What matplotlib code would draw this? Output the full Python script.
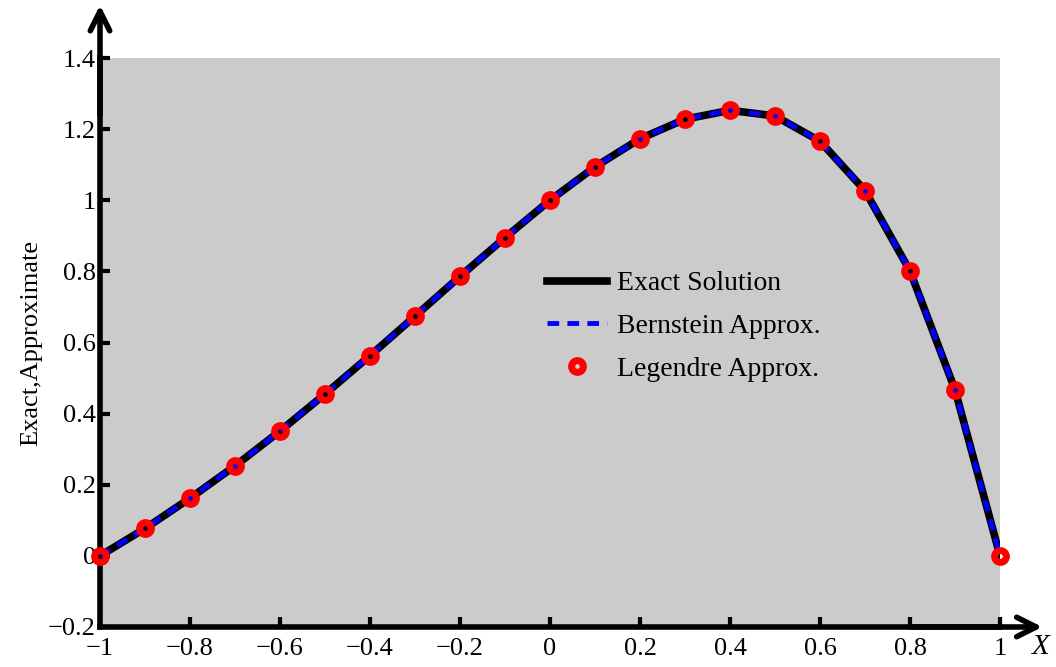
import numpy as np
import matplotlib.pyplot as plt

# nodes and solution values
x_nodes = [-1.0, -0.9, -0.8, -0.7, -0.6, -0.5, -0.4, -0.3, -0.2, -0.1, 0.0,
           0.1, 0.2, 0.3, 0.4, 0.5, 0.6, 0.7, 0.8, 0.9, 1.0]
exact = [0.0, 0.077, 0.162, 0.253, 0.351, 0.455, 0.563, 0.674, 0.786, 0.895, 1.0,
         1.094, 1.173, 1.228, 1.253, 1.237, 1.166, 1.027, 0.801, 0.467, 0.0]
bernstein = [0.0, 0.077, 0.162, 0.253, 0.351, 0.455, 0.563, 0.674, 0.786, 0.895, 1.0,
             1.094, 1.173, 1.228, 1.253, 1.237, 1.166, 1.027, 0.801, 0.467, 0.0]
legendre = [0.0, 0.077, 0.162, 0.253, 0.351, 0.455, 0.563, 0.674, 0.786, 0.895, 1.0,
            1.094, 1.173, 1.228, 1.253, 1.237, 1.166, 1.027, 0.801, 0.467, 0.0]

x_ticks = [-1, -0.8, -0.6, -0.4, -0.2, 0, 0.2, 0.4, 0.6, 0.8, 1]
x_tick_labels = ['\u22121', '\u22120.8', '\u22120.6', '\u22120.4', '\u22120.2', '0',
                 '0.2', '0.4', '0.6', '0.8', '1']
y_ticks = [-0.2, 0, 0.2, 0.4, 0.6, 0.8, 1, 1.2, 1.4]
y_tick_labels = ['\u22120.2', '0', '0.2', '0.4', '0.6', '0.8', '1', '1.2', '1.4']

plt.rcParams['font.family'] = ['Liberation Serif', 'DejaVu Serif']

fig = plt.figure(figsize=(10.56, 6.67), dpi=100)
ax = fig.add_axes([0.0947, 0.06, 0.8523, 0.853])
ax.set_facecolor('#cbcbcb')

ax.plot(x_nodes, exact, color='black', lw=5.5, label='Exact Solution', zorder=2)
ax.plot(x_nodes, bernstein, color='blue', lw=3.5, ls=(0, (2.4, 1.7)),
        label='Bernstein Approx.', zorder=3)
ax.plot(x_nodes, legendre, ls='none', marker='o', ms=8.5, mfc='none',
        mec='red', mew=5, label='Legendre Approx.', zorder=4, clip_on=False)

ax.set_xlim(-1, 1)
ax.set_ylim(-0.2, 1.4)
ax.set_xticks(x_ticks)
ax.set_xticklabels(x_tick_labels)
ax.set_yticks(y_ticks)
ax.set_yticklabels(y_tick_labels)
ax.tick_params(direction='in', length=7, width=3, labelsize=19)
ax.tick_params(axis='x', pad=8)
ax.tick_params(axis='y', pad=3)

for side in ['top', 'right']:
    ax.spines[side].set_visible(False)
for side in ['left', 'bottom']:
    ax.spines[side].set_linewidth(4)

# arrow heads on both axes
ax.annotate('', xy=(1.047, 0), xytext=(0.9, 0), xycoords='axes fraction',
            arrowprops=dict(arrowstyle='->', lw=4, color='black', mutation_scale=35,
                            shrinkA=0, shrinkB=0))
ax.annotate('', xy=(0, 1.093), xytext=(0, 0.9), xycoords='axes fraction',
            arrowprops=dict(arrowstyle='->', lw=4, color='black', mutation_scale=35,
                            shrinkA=0, shrinkB=0))

ax.set_ylabel('Exact,Approximate', fontsize=19, labelpad=4)
ax.text(1.036, -0.035, 'X', transform=ax.transAxes, fontsize=21, style='italic',
        ha='left', va='center')

ax.legend(loc='upper left', bbox_to_anchor=(0.497, 0.626), frameon=False, fontsize=20,
          handlelength=2.15, labelspacing=0.62, handletextpad=0.35,
          borderpad=0, borderaxespad=0)

fig.savefig('out.png', dpi=100)
